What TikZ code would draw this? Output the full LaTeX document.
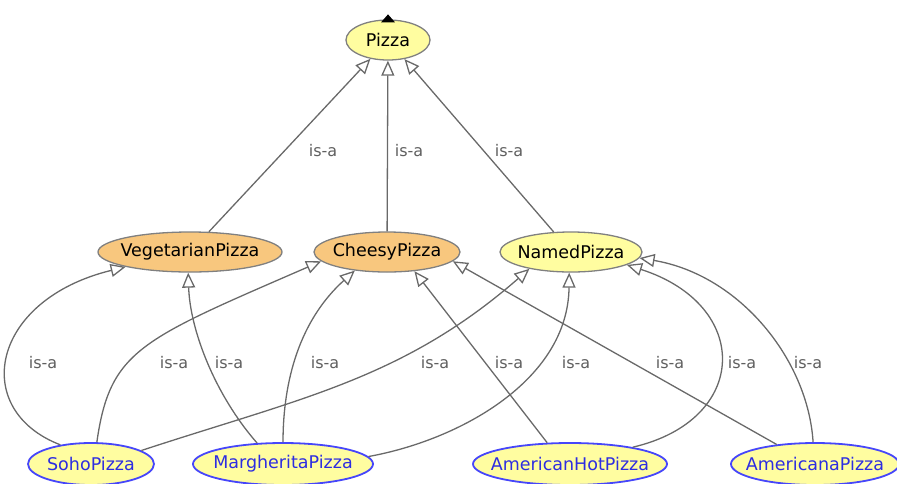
\documentclass[tikz,border=0pt]{standalone}
\usepackage{fontspec}
\setmainfont{DejaVu Sans}
\usetikzlibrary{shapes.geometric,arrows.meta}
\definecolor{yfill}{RGB}{255,253,160}
\definecolor{ofill}{RGB}{248,199,126}
\definecolor{gborder}{RGB}{128,128,128}
\definecolor{edgec}{RGB}{105,105,105}
\definecolor{labc}{RGB}{95,95,95}
\definecolor{bborder}{RGB}{70,70,250}
\definecolor{btext}{RGB}{45,45,225}
\begin{document}
\begin{tikzpicture}[x=1pt,y=-1pt,
  cls/.style={ellipse,draw=gborder,line width=1.3pt,inner sep=0pt,minimum height=40pt,
    font=\fontsize{17.5}{20}\selectfont},
  yclass/.style={cls,fill=yfill},
  oclass/.style={cls,fill=ofill},
  iclass/.style={cls,fill=yfill,draw=bborder,line width=1.8pt,text=btext,minimum height=42pt},
  isa/.style={draw=edgec,line width=1.3pt,-{Triangle[fill=white,length=15pt,width=13pt]}},
  lab/.style={font=\fontsize{16}{18}\selectfont,text=labc,inner sep=1pt}]
\useasboundingbox (0,0) rectangle (897,483);
% nodes
\node[yclass,minimum width=84pt] (pizza) at (388,40) {\makebox[0pt]{Pizza}};
\node[oclass,minimum width=184pt] (veg) at (190,252) {\makebox[0pt]{VegetarianPizza}};
\node[oclass,minimum width=146pt] (cheesy) at (387,252) {\makebox[0pt]{CheesyPizza}};
\node[yclass,minimum width=142pt] (namedp) at (571,252) {\makebox[0pt]{NamedPizza}};
\node[iclass,minimum width=126pt] (soho) at (91,464) {\makebox[0pt]{SohoPizza}};
\node[iclass,minimum width=180pt] (marg) at (283,464) {\makebox[0pt]{MargheritaPizza}};
\node[iclass,minimum width=194pt] (amhot) at (570,464) {\makebox[0pt]{AmericanHotPizza}};
\node[iclass,minimum width=168pt] (americana) at (815,464) {\makebox[0pt]{AmericanaPizza}};
\fill[black] (pizza.north) ++(-7,3) -- ++(14,0) -- ++(-7,-8) -- cycle;
% top edges
\draw[isa] (veg) -- (pizza);
\draw[isa] (cheesy) -- (pizza);
\draw[isa] (namedp) -- (pizza);
% bottom edges
\draw[isa] (soho.148) .. controls (-30,410) and (-10,300) .. (veg.193);
\draw[isa] (soho.75) .. controls (110,350) and (140,340) .. (cheesy.188);
\draw[isa] (soho.15) .. controls (301,398) and (403,379) .. (namedp.202);
\draw[isa] (marg.141) .. controls (215,395) and (190,330) .. (veg.265);
\draw[isa] (marg.90) .. controls (283,380) and (300,320) .. (cheesy.210);
\draw[isa] (marg.5) .. controls (460,440) and (568,380) .. (namedp.265);
\draw[isa] (amhot.137) -- (cheesy.325);
\draw[isa] (amhot.15) .. controls (750,420) and (752,305) .. (namedp.-13);
\draw[isa] (americana.153) -- (cheesy.352);
\draw[isa] (americana.95) .. controls (808,360) and (740,275) .. (namedp.-5);
% labels
\node[lab] (t1) at (323,151) {is-a};
\node[lab] (t2) at (409,151) {is-a};
\node[lab] (t3) at (509,151) {is-a};
\node[lab] (b1) at (43,363) {is-a};
\node[lab] (b2) at (174,363) {is-a};
\node[lab] (b3) at (229,363) {is-a};
\node[lab] (b4) at (325,363) {is-a};
\node[lab] (b5) at (435,363) {is-a};
\node[lab] (b6) at (509,363) {is-a};
\node[lab] (b7) at (576,363) {is-a};
\node[lab] (b8) at (670,363) {is-a};
\node[lab] (b9) at (742,363) {is-a};
\node[lab] (b10) at (808,363) {is-a};
\end{tikzpicture}
\end{document}
